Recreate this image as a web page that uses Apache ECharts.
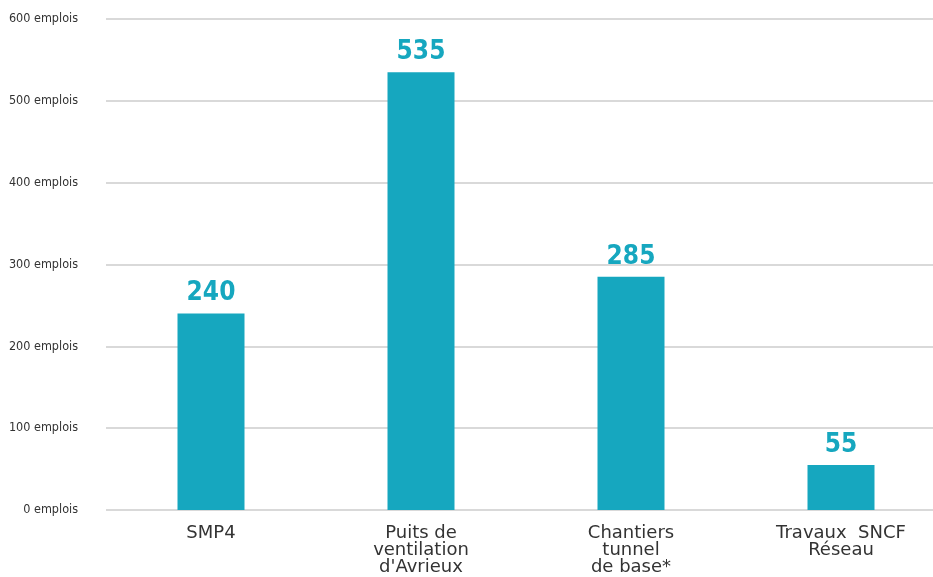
<!DOCTYPE html>
<html>
<head>
<meta charset="utf-8">
<script src="https://cdn.jsdelivr.net/npm/echarts@6/dist/echarts.min.js"></script>
<style>
  html, body { margin: 0; padding: 0; background: #fff; overflow: hidden; }
  #chart { width: 950px; height: 577px; }
</style>
</head>
<body>
<div id="chart"></div>
<script>
const categories = ['SMP4', 'Puits de\nventilation\nd\'Avrieux', 'Chantiers\ntunnel\nde base*', 'Travaux  SNCF\nRéseau']
const jobs = [240, 535, 285, 55]
const yTicks = [0, 100, 200, 300, 400, 500, 600]

const teal = '#16a7bf'
const chart = echarts.init(document.getElementById('chart'))

chart.setOption({
  animation: false,
  grid: {
    left: 106,
    right: 4,
    top: 19,
    bottom: 67
  },
  xAxis: {
    type: 'category',
    data: categories,
    axisLine: { show: false },
    axisTick: { show: false },
    axisLabel: {
      interval: 0,
      margin: 15,
      color: '#333',
      fontFamily: 'DejaVu Sans',
      fontSize: 18,
      lineHeight: 17
    }
  },
  yAxis: {
    type: 'value',
    min: yTicks[0],
    max: yTicks[yTicks.length - 1],
    interval: 100,
    axisLine: { show: false },
    axisTick: { show: false },
    splitLine: { lineStyle: { color: '#d9d9d9', width: 2 } },
    axisLabel: {
      margin: 28,
      color: '#333',
      fontFamily: '"DejaVu Sans Condensed", "Roboto", sans-serif',
      fontSize: 12.5,
      formatter: v => v + ' emplois'
    }
  },
  series: [
    {
      type: 'bar',
      data: jobs,
      barWidth: 67,
      itemStyle: { color: teal },
      label: {
        show: true,
        position: 'top',
        distance: 7,
        color: teal,
        fontFamily: '"DejaVu Sans Condensed", "DejaVu Sans", sans-serif',
        fontWeight: 'bold',
        fontSize: 26
      }
    }
  ]
})
</script>
</body>
</html>
